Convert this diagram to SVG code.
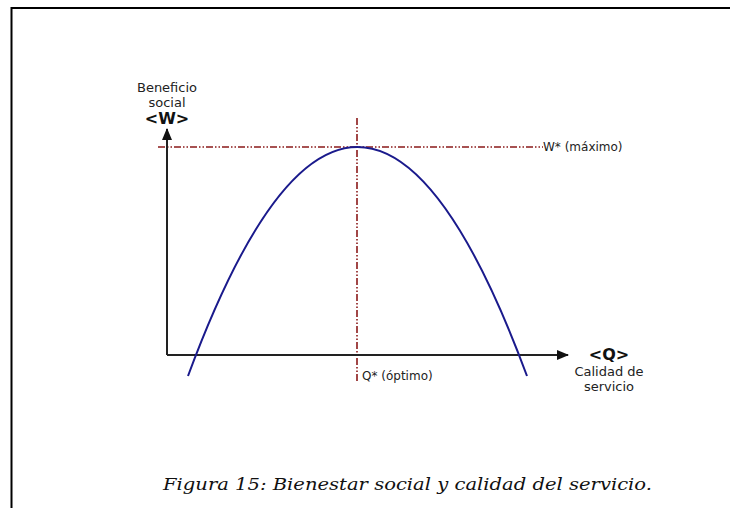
<svg xmlns="http://www.w3.org/2000/svg" width="730" height="508" viewBox="0 0 730 508">
<style>
.lbl{font-family:"DejaVu Sans",sans-serif;font-size:13px;fill:#222;}
.big{font-family:"DejaVu Sans",sans-serif;font-size:16px;font-weight:bold;fill:#111;}
.small{font-family:"DejaVu Sans",sans-serif;font-size:12px;fill:#222;}
.guide{stroke:#8b1a1a;stroke-width:1.6;fill:none;stroke-dasharray:7,2,1.5,2,1.5,2;}
.axis{stroke:#222;stroke-width:2;fill:none;}
.cap{font-family:"DejaVu Serif",serif;font-style:italic;font-size:17px;fill:#111;}
</style>
<defs>
<marker id="ah" markerWidth="12" markerHeight="10" refX="11" refY="5" orient="auto" markerUnits="userSpaceOnUse">
<path d="M0,0 L12,5 L0,10 Z" fill="#111"/>
</marker>
</defs>
<rect width="730" height="508" fill="#fff"/>
<g id="frame">
<path d="M11.5,508 V8 H730" stroke="#000" stroke-width="2" fill="none"/>
</g>
<g id="connectors">
<line class="guide" x1="158" y1="147" x2="543" y2="147"/>
<line class="guide" x1="357" y1="118" x2="357" y2="382"/>
<path class="axis" d="M167,355 V129" marker-end="url(#ah)"/>
<path class="axis" d="M167,355 H568" marker-end="url(#ah)"/>
<path d="M188,376 Q357.5,-82 527,376" stroke="#1a1a8c" stroke-width="2" fill="none"/>
</g>
<g id="ylabel">
<text class="lbl" x="167" y="92" text-anchor="middle">Beneficio</text>
<text class="lbl" x="167" y="107" text-anchor="middle">social</text>
<text class="big" x="167" y="124" text-anchor="middle">&lt;W&gt;</text>
</g>
<g id="xlabel">
<text class="big" x="609" y="360" text-anchor="middle">&lt;Q&gt;</text>
<text class="lbl" x="609" y="376" text-anchor="middle">Calidad de</text>
<text class="lbl" x="609" y="391" text-anchor="middle">servicio</text>
</g>
<g id="wmax"><text class="small" x="543" y="151">W* (máximo)</text></g>
<g id="qopt"><text class="small" x="362" y="380">Q* (óptimo)</text></g>
<g id="caption"><text class="cap" x="163" y="490" textLength="489" lengthAdjust="spacingAndGlyphs">Figura 15: Bienestar social y calidad del servicio.</text></g>
</svg>
